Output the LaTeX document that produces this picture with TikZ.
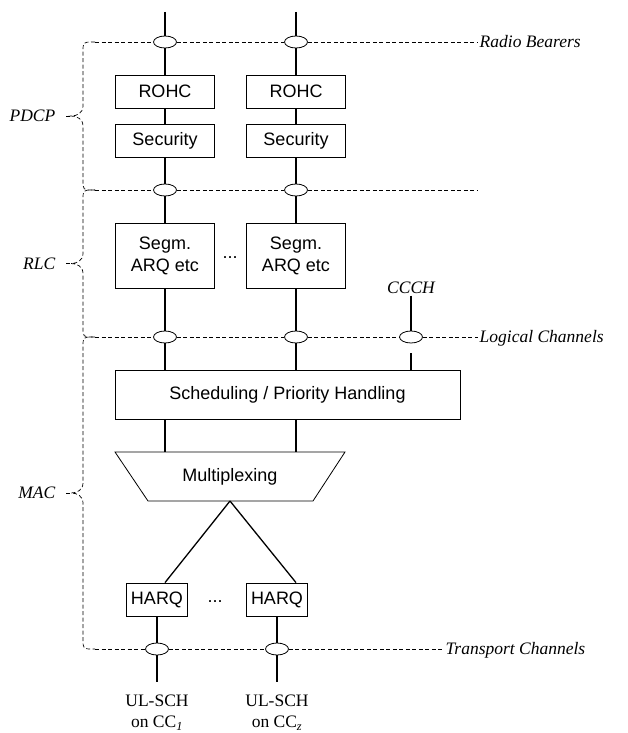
\documentclass[tikz,border=0pt]{standalone}
\usepackage{fontspec}
\setmainfont{Liberation Serif}
\setsansfont{Liberation Sans}
\usetikzlibrary{shapes.geometric}

\begin{document}
\begin{tikzpicture}[x=1pt, y=-1pt,
  lbox/.style={draw, line width=0.8pt, minimum width=99, minimum height=33, inner sep=0, align=center, font=\sffamily\fontsize{18}{22}\selectfont},
  chan/.style={draw, ellipse, fill=white, line width=0.8pt, minimum width=23, minimum height=12, inner sep=0},
  wire/.style={line width=1.3pt},
  dashy/.style={line width=0.7pt, dash pattern=on 4pt off 2.5pt},
  lab/.style={font=\itshape\fontsize{17.5}{21}\selectfont, text height=11.6pt, text depth=0pt, inner sep=1.5pt},
  sch/.style={font=\fontsize{17.5}{21}\selectfont, align=center, inner sep=0}]
  \def\ca{165}
  \def\cb{296}
  \useasboundingbox (0,0) rectangle (628,733);

  \coordinate (top1) at (\ca,12);
  \coordinate (top2) at (\cb,12);
  \coordinate (rbL) at (95,42);
  \coordinate (pdL) at (95,190);
  \coordinate (pdR) at (478,190);
  \coordinate (lcL) at (95,337);
  \coordinate (tcL) at (95,649);
  \coordinate (muxtop) at (230,452);
  \coordinate (muxbot) at (230,501);

  \node[chan] (rb1) at (\ca,42) {};
  \node[chan] (rb2) at (\cb,42) {};
  \node[chan] (pd1) at (\ca,190) {};
  \node[chan] (pd2) at (\cb,190) {};
  \node[chan] (lc1) at (\ca,337) {};
  \node[chan] (lc2) at (\cb,337) {};
  \node[chan] (lc3) at (411,337) {};
  \node[chan] (tc1) at (157,649) {};
  \node[chan] (tc2) at (277,649) {};

  \node[lbox] (rohc1) at (\ca,91.5) {ROHC};
  \node[lbox] (rohc2) at (\cb,91.5) {ROHC};
  \node[lbox] (sec1) at (\ca,140.5) {Security};
  \node[lbox] (sec2) at (\cb,140.5) {Security};
  \node[lbox, minimum height=65] (rlc1) at (\ca,255.5) {Segm.\\ARQ etc};
  \node[lbox, minimum height=65] (rlc2) at (\cb,255.5) {Segm.\\ARQ etc};
  \node[font=\sffamily\fontsize{18}{22}\selectfont] (dots1) at (230,258) {...};
  \node[lbox, minimum width=345, minimum height=49] (sched) at (287.5,394.5) {Scheduling / Priority Handling};
  \draw[line width=0.8pt] (muxtop -| 115,0) -- (muxtop -| 345,0) -- (muxbot -| 313,0) -- (muxbot -| 148,0) -- cycle;
  \node[font=\sffamily\fontsize{18}{22}\selectfont] (mux) at (230,476.5) {Multiplexing};
  \node[lbox, minimum width=61] (harq1) at (157,599.5) {HARQ};
  \node[lbox, minimum width=61] (harq2) at (277,599.5) {HARQ};
  \node[font=\sffamily\fontsize{18}{22}\selectfont] (dots2) at (215,602) {...};

  \node[lab, anchor=west] (rbT) at (478,42) {Radio Bearers};
  \node[lab, anchor=west] (lcT) at (478,337) {Logical Channels};
  \node[lab, anchor=west] (tcT) at (444,649) {Transport Channels};
  \node[lab] (ccch) at (411,288) {CCCH};
  \node[sch, anchor=north] (ul1) at (157,695) {UL-SCH\\on CC\textsubscript{\textit{1}}};
  \node[sch, anchor=north] (ul2) at (277,695) {UL-SCH\\on CC\textsubscript{\textit{z}}};

  \draw[dashy] (rbL) -- (rb1) -- (rb2) -- (rbT);
  \draw[dashy] (pdL) -- (pd1) -- (pd2) -- (pdR);
  \draw[dashy] (lcL) -- (lc1) -- (lc2) -- (lc3) -- (lcT);
  \draw[dashy] (tcL) -- (tc1) -- (tc2) -- (tcT);

  \foreach \ya/\yb/\lay in {42/190/PDCP, 190/337/RLC, 337/649/MAC}{
    \pgfmathsetmacro\ym{(\ya+\yb)/2}
    \draw[dashy] (95,\ya) -- (93,\ya) .. controls (83,\ya) .. (83,\ya+10) -- (83,\ym-10)
      .. controls (83,\ym-3) and (77,\ym) .. (71,\ym) .. controls (77,\ym) and (83,\ym+3) .. (83,\ym+10)
      -- (83,\yb-10) .. controls (83,\yb) .. (93,\yb) -- (95,\yb);
    \coordinate (\lay tip) at (71,\ym);
    \node[lab, anchor=east] (\lay) at (57,\ym) {\lay};
    \draw[dashy, shorten <=9pt] (\lay) -- (\lay tip);
  }

  \draw[wire] (top1) -- (rb1) -- (rohc1) -- (sec1) -- (pd1) -- (rlc1) -- (lc1) -- (lc1 |- sched.north);
  \draw[wire] (top2) -- (rb2) -- (rohc2) -- (sec2) -- (pd2) -- (rlc2) -- (lc2) -- (lc2 |- sched.north);
  \draw[wire, shorten <=10pt] (ccch) -- (lc3) -- (lc3 |- sched.north);
  \draw[wire] (sched.south -| lc1) -- (muxtop -| lc1);
  \draw[wire] (sched.south -| lc2) -- (muxtop -| lc2);
  \draw[wire] (muxbot) -- (harq1.north -| lc1);
  \draw[wire] (muxbot) -- (harq2.north -| lc2);
  \draw[wire, shorten >=13pt] (harq1) -- (tc1) -- (ul1);
  \draw[wire, shorten >=13pt] (harq2) -- (tc2) -- (ul2);
\end{tikzpicture}
\end{document}
